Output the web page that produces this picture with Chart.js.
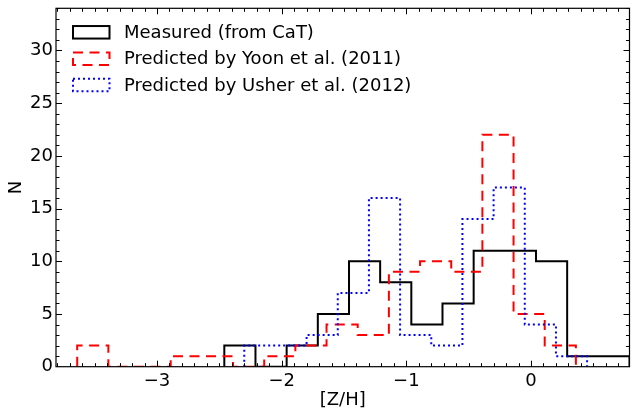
<!DOCTYPE html>
<html>
<head>
<meta charset="utf-8">
<script src="https://cdn.jsdelivr.net/npm/chart.js@4.4.0/dist/chart.umd.min.js"></script>
<style>
    html, body { margin: 0; padding: 0; background: #fff; }
    canvas { display: block; }
</style>
</head>
<body>
<canvas id="hist" width="632" height="413"></canvas>
<script>
// histogram bin edges and counts
const measuredEdges = [-2.46, -2.21, -1.96, -1.71, -1.46, -1.21, -0.96, -0.71, -0.46, -0.21, 0.04, 0.29, 0.54, 0.79];
const measuredCounts = [2, 0, 2, 5, 10, 8, 4, 6, 11, 11, 10, 1, 1];

const yoonEdges = [-3.64, -3.39, -3.14, -2.89, -2.64, -2.39, -2.14, -1.89, -1.64, -1.39, -1.14, -0.89, -0.64, -0.39, -0.14, 0.11, 0.36];
const yoonCounts = [2, 0, 0, 1, 1, 0, 1, 2, 4, 3, 9, 10, 9, 22, 5, 2];

const usherEdges = [-2.30, -2.05, -1.80, -1.55, -1.30, -1.05, -0.80, -0.55, -0.30, -0.05, 0.20, 0.45];
const usherCounts = [2, 2, 3, 7, 16, 3, 2, 14, 17, 4, 1];

const seriesLabels = ["Measured (from CaT)", "Predicted by Yoon et al. (2011)", "Predicted by Usher et al. (2012)"];

const xTicks = [-3, -2, -1, 0];
const yTicks = [0, 5, 10, 15, 20, 25, 30];

const FONT = "DejaVu Sans";
const FONT_SIZE = 18;
const LW = 2;

// outline of a step histogram: up at the first edge, across each bin, down at the last edge
function stepPoints(edges, counts) {
    let pts = [{ x: edges[0], y: 0 }];
    counts.forEach((c, i) => pts.push({ x: edges[i], y: c }));
    pts.push({ x: edges[edges.length - 1], y: 0 });
    return pts;
}

const styles = [
    { color: "#000000", dash: [] },
    { color: "#ff0000", dash: [10, 6.5] },
    { color: "#0000ff", dash: [2, 3] },
];

function minorValues(from, to, step) {
    let out = [];
    for (let v = from; v <= to + 1e-9; v += step) out.push(Math.round(v * 100) / 100);
    return out;
}

const frameAndTicks = {
    id: "frameAndTicks",
    afterDatasetsDraw(chart) {
        const { ctx, chartArea: a, scales: { x, y } } = chart;
        ctx.save();
        ctx.strokeStyle = "#000";
        ctx.lineWidth = 1;
        ctx.setLineDash([]);

        const xTick = (v, len) => {
            const px = Math.round(x.getPixelForValue(v)) + 0.5;
            if (px < a.left || px > a.right) return;
            ctx.beginPath();
            ctx.moveTo(px, a.bottom); ctx.lineTo(px, a.bottom - len);
            ctx.moveTo(px, a.top); ctx.lineTo(px, a.top + len);
            ctx.stroke();
        };
        const yTick = (v, len) => {
            const py = Math.round(y.getPixelForValue(v)) + 0.5;
            if (py < a.top || py > a.bottom) return;
            ctx.beginPath();
            ctx.moveTo(a.left, py); ctx.lineTo(a.left + len, py);
            ctx.moveTo(a.right, py); ctx.lineTo(a.right - len, py);
            ctx.stroke();
        };

        minorValues(-3.8, 0.7, 0.1).forEach(v => xTick(v, 3.5));
        minorValues(0, 34, 1).forEach(v => yTick(v, 3.5));
        xTicks.forEach(v => xTick(v, 6));
        yTicks.forEach(v => yTick(v, 6));

        ctx.lineWidth = 1.2;
        ctx.strokeRect(a.left, a.top, a.right - a.left, a.bottom - a.top);
        ctx.restore();
    },
    afterDraw(chart) {
        const ctx = chart.ctx;
        ctx.save();
        const boxX = 73, boxW = 36.5, boxH = 12.5, textX = 124;
        const rows = [32.3, 58.7, 85];
        ctx.font = FONT_SIZE + "px '" + FONT + "'";
        ctx.textBaseline = "middle";
        ctx.fillStyle = "#000";
        seriesLabels.forEach((label, i) => {
            ctx.strokeStyle = styles[i].color;
            ctx.lineWidth = LW;
            ctx.setLineDash(styles[i].dash);
            ctx.strokeRect(boxX, rows[i] - boxH / 2, boxW, boxH);
            ctx.setLineDash([]);
            ctx.fillText(label, textX, rows[i] + 1);
        });
        ctx.restore();
    }
};

const datasets = [
    [measuredEdges, measuredCounts],
    [yoonEdges, yoonCounts],
    [usherEdges, usherCounts],
].map(([edges, counts], i) => ({
    label: seriesLabels[i],
    data: stepPoints(edges, counts),
    stepped: "before",
    borderColor: styles[i].color,
    borderDash: styles[i].dash,
    borderWidth: LW,
    backgroundColor: "transparent",
    pointRadius: 0,
    fill: false,
    order: 2 - i,
}));

Chart.defaults.font.family = FONT;
Chart.defaults.font.size = FONT_SIZE;
Chart.defaults.color = "#000";

new Chart(document.getElementById("hist").getContext("2d"), {
    type: "line",
    data: { datasets: datasets },
    options: {
        responsive: false,
        animation: false,
        devicePixelRatio: 1,
        layout: { padding: { left: 0, right: 2.5, top: 8.3, bottom: 0 } },
        plugins: {
            legend: { display: false },
            tooltip: { enabled: false },
        },
        scales: {
            x: {
                type: "linear",
                min: -3.81,
                max: 0.79,
                grid: { display: false, drawTicks: false },
                border: { display: false },
                afterBuildTicks: (scale) => { scale.ticks = xTicks.map(v => ({ value: v })); },
                afterFit: (scale) => {
                    scale.height = 46.3;
                    scale.paddingLeft = 0;
                    scale.paddingRight = 0;
                },
                ticks: {
                    padding: 3.5,
                    maxRotation: 0,
                    callback: (v) => String(v).replace("-", "\u2212"),
                },
                title: {
                    display: true,
                    text: "[Z/H]",
                    padding: { top: 0, bottom: 2.2 },
                },
            },
            y: {
                type: "linear",
                min: 0,
                max: 34,
                grid: { display: false, drawTicks: false },
                border: { display: false },
                afterBuildTicks: (scale) => { scale.ticks = yTicks.map(v => ({ value: v })); },
                afterFit: (scale) => {
                    scale.width = 56;
                    scale.paddingTop = 0;
                    scale.paddingBottom = 0;
                },
                ticks: {
                    padding: 3,
                },
                title: {
                    display: true,
                    text: "N",
                    padding: { top: 5.2, bottom: 0 },
                },
            },
        },
    },
    plugins: [frameAndTicks],
});
</script>
</body>
</html>
